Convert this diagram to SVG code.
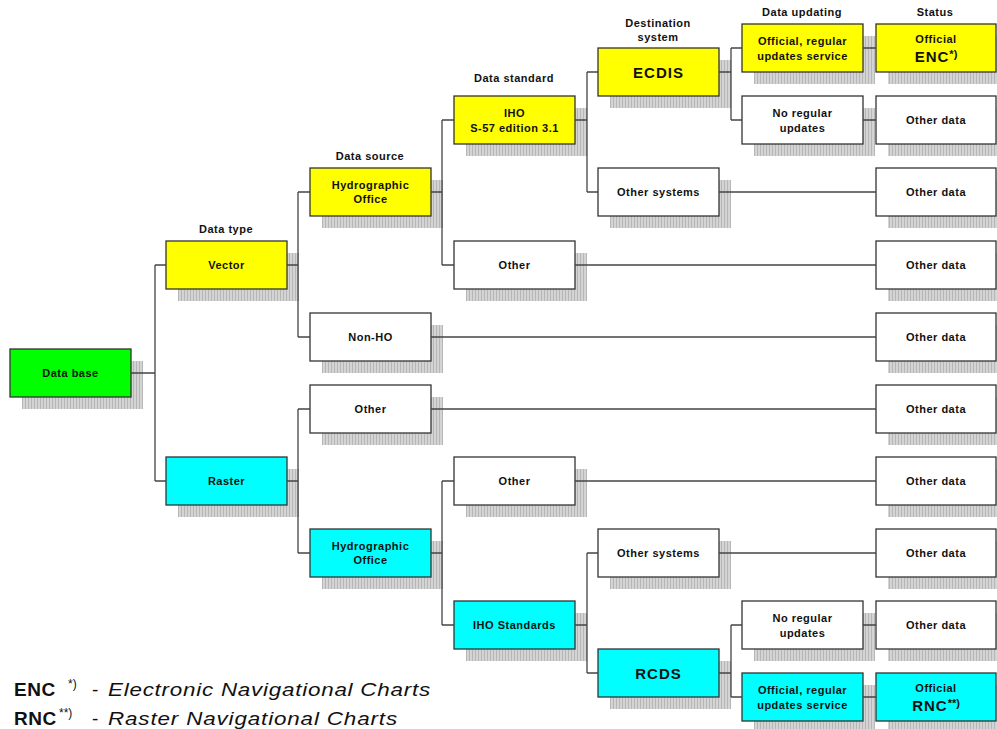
<svg xmlns="http://www.w3.org/2000/svg" width="997" height="729" viewBox="0 0 997 729">
  <defs>
    <pattern id="stripes" patternUnits="userSpaceOnUse" width="3" height="3">
      <rect width="3" height="3" fill="#d4d4d4"/>
      <rect x="1" width="1" height="3" fill="#b6b6b6"/>
    </pattern>
  </defs>
  <style>
    .shadow { fill: url(#stripes); }
    .box { stroke: #333; stroke-width: 1.3; }
    .y { fill: #ffff00; }
    .c { fill: #00ffff; }
    .g { fill: #00ff00; }
    .w { fill: #ffffff; }
    text { font-family: "Liberation Sans", Arial, sans-serif; fill: #111; }
    .t { font-size: 11px; font-weight: bold; letter-spacing: 0.5px; text-anchor: middle; }
    .big { font-size: 15px; font-weight: bold; letter-spacing: 1px; text-anchor: middle; }
    .hdr { font-size: 11px; font-weight: bold; letter-spacing: 0.5px; text-anchor: middle; }
    .sup { font-size: 11px; letter-spacing: 0; }
    .conn { fill: none; stroke: #444; stroke-width: 1.3; }
    .leg { font-size: 19px; }
    .abbr { font-size: 19px; font-weight: bold; letter-spacing: 0.5px; }
    .lsup { font-size: 12px; }
    .desc { font-size: 19px; font-style: italic; }
  </style>

  <!-- column headings -->
  <g id="headings">
    <text class="hdr" x="226" y="233">Data type</text>
    <text class="hdr" x="370" y="160">Data source</text>
    <text class="hdr" x="514" y="82">Data standard</text>
    <text class="hdr" x="658" y="27">Destination</text>
    <text class="hdr" x="658" y="41">system</text>
    <text class="hdr" x="802" y="16">Data updating</text>
    <text class="hdr" x="935" y="16">Status</text>
  </g>

  <!-- nodes: shadow, box, label -->
  <g id="database"><rect class="shadow" x="22" y="361" width="121" height="48"/><rect class="box g" x="10" y="349" width="121" height="48"/><text class="t" x="70.5" y="377">Data base</text></g>

  <g id="vector"><rect class="shadow" x="178" y="253" width="121" height="48"/><rect class="box y" x="166" y="241" width="121" height="48"/><text class="t" x="226.5" y="269">Vector</text></g>
  <g id="raster"><rect class="shadow" x="178" y="469" width="121" height="48"/><rect class="box c" x="166" y="457" width="121" height="48"/><text class="t" x="226.5" y="485">Raster</text></g>

  <g id="ho-vector"><rect class="shadow" x="322" y="180" width="121" height="48"/><rect class="box y" x="310" y="168" width="121" height="48"/><text class="t" x="370.5" y="189">Hydrographic</text><text class="t" x="370.5" y="203">Office</text></g>
  <g id="non-ho"><rect class="shadow" x="322" y="325" width="121" height="48"/><rect class="box w" x="310" y="313" width="121" height="48"/><text class="t" x="370.5" y="341">Non-HO</text></g>
  <g id="other-raster-source"><rect class="shadow" x="322" y="397" width="121" height="48"/><rect class="box w" x="310" y="385" width="121" height="48"/><text class="t" x="370.5" y="413">Other</text></g>
  <g id="ho-raster"><rect class="shadow" x="322" y="541" width="121" height="48"/><rect class="box c" x="310" y="529" width="121" height="48"/><text class="t" x="370.5" y="550">Hydrographic</text><text class="t" x="370.5" y="564">Office</text></g>

  <g id="iho-s57"><rect class="shadow" x="466" y="108" width="121" height="48"/><rect class="box y" x="454" y="96" width="121" height="48"/><text class="t" x="514.5" y="117">IHO</text><text class="t" x="514.5" y="132">S-57 edition 3.1</text></g>
  <g id="other-vector-standard"><rect class="shadow" x="466" y="253" width="121" height="48"/><rect class="box w" x="454" y="241" width="121" height="48"/><text class="t" x="514.5" y="269">Other</text></g>
  <g id="other-raster-standard"><rect class="shadow" x="466" y="469" width="121" height="48"/><rect class="box w" x="454" y="457" width="121" height="48"/><text class="t" x="514.5" y="485">Other</text></g>
  <g id="iho-standards"><rect class="shadow" x="466" y="613" width="121" height="48"/><rect class="box c" x="454" y="601" width="121" height="48"/><text class="t" x="514.5" y="629">IHO Standards</text></g>

  <g id="ecdis"><rect class="shadow" x="610" y="60" width="121" height="48"/><rect class="box y" x="598" y="48" width="121" height="48"/><text class="big" x="658.5" y="78">ECDIS</text></g>
  <g id="other-systems-vector"><rect class="shadow" x="610" y="180" width="121" height="48"/><rect class="box w" x="598" y="168" width="121" height="48"/><text class="t" x="658.5" y="196">Other systems</text></g>
  <g id="other-systems-raster"><rect class="shadow" x="610" y="541" width="121" height="48"/><rect class="box w" x="598" y="529" width="121" height="48"/><text class="t" x="658.5" y="557">Other systems</text></g>
  <g id="rcds"><rect class="shadow" x="610" y="661" width="121" height="48"/><rect class="box c" x="598" y="649" width="121" height="48"/><text class="big" x="658.5" y="679">RCDS</text></g>

  <g id="updates-vector"><rect class="shadow" x="754" y="36" width="121" height="48"/><rect class="box y" x="742" y="24" width="121" height="48"/><text class="t" x="802.5" y="45">Official, regular</text><text class="t" x="802.5" y="60">updates service</text></g>
  <g id="no-updates-vector"><rect class="shadow" x="754" y="108" width="121" height="48"/><rect class="box w" x="742" y="96" width="121" height="48"/><text class="t" x="802.5" y="117">No regular</text><text class="t" x="802.5" y="132">updates</text></g>
  <g id="no-updates-raster"><rect class="shadow" x="754" y="613" width="121" height="48"/><rect class="box w" x="742" y="601" width="121" height="48"/><text class="t" x="802.5" y="622">No regular</text><text class="t" x="802.5" y="637">updates</text></g>
  <g id="updates-raster"><rect class="shadow" x="754" y="685" width="121" height="48"/><rect class="box c" x="742" y="673" width="121" height="48"/><text class="t" x="802.5" y="694">Official, regular</text><text class="t" x="802.5" y="709">updates service</text></g>

  <g id="official-enc"><rect class="shadow" x="888" y="36" width="121" height="48"/><rect class="box y" x="876" y="24" width="120" height="48"/><text class="t" x="936" y="43">Official</text><text class="big" x="936" y="62">ENC<tspan class="sup" dy="-4">*)</tspan></text></g>
  <g id="other-data-1"><rect class="shadow" x="888" y="108" width="121" height="48"/><rect class="box w" x="876" y="96" width="120" height="48"/><text class="t" x="936" y="124">Other data</text></g>
  <g id="other-data-2"><rect class="shadow" x="888" y="180" width="121" height="48"/><rect class="box w" x="876" y="168" width="120" height="48"/><text class="t" x="936" y="196">Other data</text></g>
  <g id="other-data-3"><rect class="shadow" x="888" y="253" width="121" height="48"/><rect class="box w" x="876" y="241" width="120" height="48"/><text class="t" x="936" y="269">Other data</text></g>
  <g id="other-data-4"><rect class="shadow" x="888" y="325" width="121" height="48"/><rect class="box w" x="876" y="313" width="120" height="48"/><text class="t" x="936" y="341">Other data</text></g>
  <g id="other-data-5"><rect class="shadow" x="888" y="397" width="121" height="48"/><rect class="box w" x="876" y="385" width="120" height="48"/><text class="t" x="936" y="413">Other data</text></g>
  <g id="other-data-6"><rect class="shadow" x="888" y="469" width="121" height="48"/><rect class="box w" x="876" y="457" width="120" height="48"/><text class="t" x="936" y="485">Other data</text></g>
  <g id="other-data-7"><rect class="shadow" x="888" y="541" width="121" height="48"/><rect class="box w" x="876" y="529" width="120" height="48"/><text class="t" x="936" y="557">Other data</text></g>
  <g id="other-data-8"><rect class="shadow" x="888" y="613" width="121" height="48"/><rect class="box w" x="876" y="601" width="120" height="48"/><text class="t" x="936" y="629">Other data</text></g>
  <g id="official-rnc"><rect class="shadow" x="888" y="685" width="121" height="48"/><rect class="box c" x="876" y="673" width="120" height="48"/><text class="t" x="936" y="692">Official</text><text class="big" x="936" y="711">RNC<tspan class="sup" dy="-4">**)</tspan></text></g>

  <!-- tree connectors -->
  <g id="connectors" class="conn">
    <path d="M131 373H155M155 265V481M155 265H166M155 481H166"/>
    <path d="M287 265H298M298 192V337M298 192H310M298 337H310"/>
    <path d="M287 481H298M298 409V553M298 409H310M298 553H310"/>
    <path d="M431 192H442M442 120V265M442 120H454M442 265H454"/>
    <path d="M431 337H876"/>
    <path d="M431 409H876"/>
    <path d="M431 553H442M442 481V625M442 481H454M442 625H454"/>
    <path d="M575 120H587M587 72V192M587 72H598M587 192H598"/>
    <path d="M575 265H876"/>
    <path d="M575 481H876"/>
    <path d="M575 625H587M587 553V673M587 553H598M587 673H598"/>
    <path d="M719 72H731M731 48V120M731 48H742M731 120H742"/>
    <path d="M719 192H876"/>
    <path d="M719 553H876"/>
    <path d="M719 673H731M731 625V697M731 625H742M731 697H742"/>
    <path d="M863 48H876M863 120H876M863 625H876M863 697H876"/>
  </g>

  <!-- legend -->
  <g id="legend">
    <text class="abbr" x="14" y="696">ENC</text>
    <text class="lsup" x="68" y="688">*)</text>
    <text class="leg" x="92" y="696">-</text>
    <text class="desc" transform="translate(108 696) scale(1.18 1)" textLength="273" lengthAdjust="spacing">Electronic Navigational Charts</text>
    <text class="abbr" x="14" y="725">RNC</text>
    <text class="lsup" x="59" y="717">**)</text>
    <text class="leg" x="92" y="725">-</text>
    <text class="desc" transform="translate(108 725) scale(1.18 1)" textLength="245" lengthAdjust="spacing">Raster Navigational Charts</text>
  </g>
</svg>
